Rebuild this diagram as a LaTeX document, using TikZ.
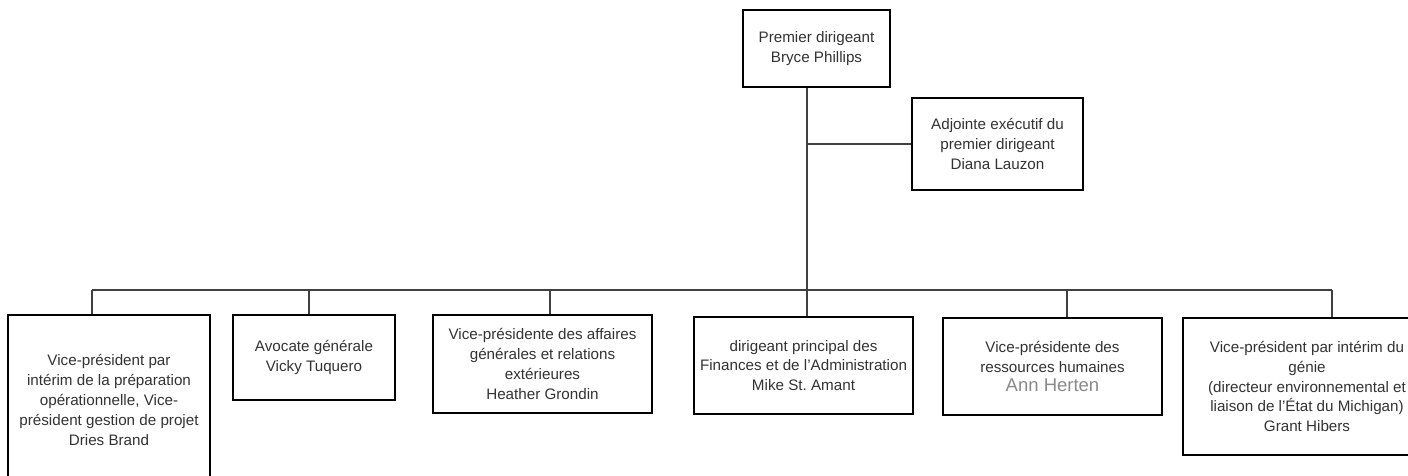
\documentclass[tikz,border=0pt]{standalone}
\usepackage{fontspec}
\setmainfont{Liberation Sans}
\usepackage{tikz}
\usetikzlibrary{positioning}
\definecolor{textgray}{HTML}{333333}
\definecolor{namegray}{HTML}{8A8A8A}

\begin{document}
\begin{tikzpicture}[%
  x=1pt, y=-1pt,
  box/.style={draw=black, line width=2.4pt, fill=white, align=center, inner sep=2pt,
    text=textgray, font=\fontsize{15.2}{19.8}\selectfont},
  link/.style={draw=black!75, line width=1.8pt}
  ]
  \useasboundingbox (0,0) rectangle (1408,476);
  \clip (0,0) rectangle (1408,476);

  % Draw the top boxes
  \node[box, minimum width=147pt, minimum height=77pt] (top) at (816.5,48.5)
    {Premier dirigeant\\Bryce Phillips};
  \node[box, minimum width=171pt, minimum height=92pt] (A) at (997.5,144)
    {Adjointe exécutif du\\premier dirigeant\\Diana Lauzon};

  % Draw the row of boxes
  \node[box, minimum width=202pt, minimum height=170pt] (B-1) at (109,400)
    {Vice-président par\\intérim de la préparation\\opérationnelle, Vice-\\président gestion de projet\\Dries Brand};
  \node[box, minimum width=162pt, minimum height=85pt] (B-2) at (314,357.5)
    {Avocate générale\\Vicky Tuquero};
  \node[box, minimum width=219pt, minimum height=98pt] (B-3) at (542.5,364)
    {Vice-présidente des affaires\\générales et relations\\extérieures\\Heather Grondin};
  \node[box, minimum width=219pt, minimum height=97pt] (B-4) at (803.5,365.5)
    {dirigeant principal des\\Finances et de l’Administration\\Mike St.\ Amant};
  \node[box, minimum width=219pt, minimum height=97pt] (B-5) at (1052.5,366.5)
    {Vice-présidente des\\ressources humaines\\{\color{namegray}\fontsize{18.5}{25}\selectfont Ann Herten}};
  \node[box, minimum width=248pt, minimum height=137pt] (B-6) at (1307,386.5)
    {Vice-président par intérim du\\génie\\(directeur environnemental et\\liaison de l’État du Michigan)\\Grant Hibers};

  % Drop every box of the row from the bus
  \foreach \i / \x in {1/92,2/309,3/550,4/807,5/1067,6/1332}{
    \coordinate (d-\i) at (\x,290);
    \draw[link] (d-\i) -- (d-\i |- B-\i.north);
  }
  \draw[link] (d-1) -- (d-6);

  % Connect the top box and its assistant
  \draw[link] (top.south -| d-4) -- (d-4);
  \draw[link] (d-4 |- A.west) -- (A.west);
\end{tikzpicture}
\end{document}
